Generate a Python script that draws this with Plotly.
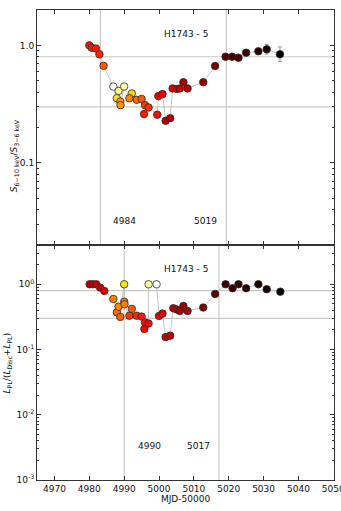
import plotly.graph_objects as go
from plotly.subplots import make_subplots

# ---------------- data ----------------
top_mjd = [4980.0, 4980.7, 4981.9, 4982.9, 4984.1, 4986.9, 4988.4, 4990.0, 4987.9, 4988.9,
           4988.95, 4992.2, 4991.5, 4993.6, 4995.0, 4996.0, 4997.0, 4995.7, 4999.5, 4999.8,
           5001.0, 5001.9, 5003.2, 5003.9, 5005.1, 5006.0, 5007.0, 5008.2, 5012.7, 5016.1,
           5019.1, 5021.0, 5022.8, 5025.0, 5028.5, 5030.9, 5034.7]
top_ratio = [1.00, 0.955, 0.94, 0.84, 0.67, 0.446, 0.41, 0.446, 0.355, 0.333,
             0.31, 0.39, 0.355, 0.344, 0.35, 0.31, 0.296, 0.26, 0.257, 0.37,
             0.385, 0.228, 0.24, 0.43, 0.426, 0.43, 0.486, 0.43, 0.486, 0.667,
             0.80, 0.80, 0.785, 0.866, 0.89, 0.925, 0.84]
top_err_up = [0]*29 + [0.03, 0, 0, 0, 0, 0, 0.09, 0.13]
top_err_dn = [0]*29 + [0.03, 0, 0, 0, 0, 0, 0.08, 0.11]
top_colors = ['#ff1400', '#ff1800', '#ff1c00', '#ff2400', '#ff5a00', '#ffffff', '#ffff99', '#ffffa0', '#ffe020', '#ff9000',
              '#ff9400', '#ffd400', '#ff8800', '#ff6a00', '#ff5800', '#ff3800', '#ff2a00', '#ff1a00', '#ff0a00', '#f40000',
              '#ee0000', '#b40000', '#b00000', '#dc0000', '#cc0000', '#c40000', '#b00000', '#b00000', '#960000', '#7a0000',
              '#520000', '#4c0000', '#460000', '#380000', '#280000', '#180000', '#000000']

bot_mjd = [4980.1, 4981.0, 4982.0, 4983.1, 4984.3, 4986.9, 4987.9, 4988.4, 4988.9, 4990.0,
           4990.02, 4990.1, 4991.5, 4992.2, 4993.6, 4995.0, 4995.8, 4996.0, 4997.0, 4997.02,
           4999.3, 5000.0, 5001.0, 5001.9, 5003.2, 5004.1, 5005.1, 5006.0, 5007.0, 5008.2,
           5012.7, 5016.1, 5019.1, 5021.1, 5022.8, 5025.0, 5028.5, 5030.9, 5034.8]
bot_frac = [1.00, 1.00, 1.00, 0.89, 0.79, 0.596, 0.372, 0.454, 0.316, 1.00,
            0.54, 0.494, 0.33, 0.42, 0.33, 0.32, 0.207, 0.26, 0.25, 1.00,
            1.00, 0.327, 0.355, 0.155, 0.163, 0.43, 0.41, 0.39, 0.465, 0.39,
            0.44, 0.71, 1.00, 0.87, 1.00, 0.87, 1.00, 0.84, 0.77]
bot_colors = ['#c40000', '#c40000', '#c80000', '#cc0000', '#d80000', '#ff8000', '#ff6a00', '#ff8800', '#ff6000', '#ffdd00',
              '#ff7800', '#ff8000', '#ff3400', '#ff5a00', '#ff2200', '#ff1600', '#ff0000', '#ff1000', '#ff0000', '#ffff99',
              '#ffffff', '#ee0000', '#e00000', '#c80000', '#c00000', '#c00000', '#b80000', '#b00000', '#a00000', '#a80000',
              '#800000', '#600000', '#400000', '#3a0000', '#300000', '#280000', '#180000', '#100000', '#000000']

top_vlines = [4983.2, 5019.3]
bot_vlines = [4990.0, 5017.2]
hlines = [0.8, 0.3]
top_vlabels = ['4984', '5019']
bot_vlabels = ['4990', '5017']
source_name = 'H1743 - 5'
x_ticks = [4970, 4980, 4990, 5000, 5010, 5020, 5030, 5040, 5050]

# ---------------- figure ----------------
FONT = 'DejaVu Sans'
fig = make_subplots(rows=2, cols=1, shared_xaxes=False, vertical_spacing=0.0)

order_t = sorted(range(len(top_mjd)), key=lambda i: top_mjd[i])
order_b = sorted(range(len(bot_mjd)), key=lambda i: bot_mjd[i])

fig.add_trace(go.Scatter(x=[top_mjd[i] for i in order_t], y=[top_ratio[i] for i in order_t],
                         mode='lines', line=dict(color='#b8b8b8', width=0.8),
                         hoverinfo='skip', showlegend=False), row=1, col=1)
fig.add_trace(go.Scatter(x=top_mjd, y=top_ratio, mode='markers',
                         error_y=dict(type='data', symmetric=False, array=top_err_up,
                                      arrayminus=top_err_dn, color='#999999', thickness=1, width=2),
                         marker=dict(size=7.5, color=top_colors, line=dict(color='#2a2a2a', width=0.8)),
                         showlegend=False), row=1, col=1)

fig.add_trace(go.Scatter(x=[bot_mjd[i] for i in order_b], y=[bot_frac[i] for i in order_b],
                         mode='lines', line=dict(color='#b8b8b8', width=0.8),
                         hoverinfo='skip', showlegend=False), row=2, col=1)
fig.add_trace(go.Scatter(x=bot_mjd, y=bot_frac, mode='markers',
                         marker=dict(size=7.5, color=bot_colors, line=dict(color='#2a2a2a', width=0.8)),
                         showlegend=False), row=2, col=1)

for r, vls in ((1, top_vlines), (2, bot_vlines)):
    for v in vls:
        fig.add_vline(x=v, line=dict(color='#c8c8c8', width=1.2), layer='below', row=r, col=1)
    for h in hlines:
        fig.add_hline(y=h, line=dict(color='#c8c8c8', width=1.2), layer='below', row=r, col=1)

axis_common = dict(showline=True, linecolor='#333333', linewidth=1, mirror='allticks',
                   ticks='inside', ticklen=4, tickcolor='#333333', showgrid=False, zeroline=False,
                   automargin=False, ticklabeloverflow='allow',
                   tickfont=dict(family=FONT, size=9, color='#111111'))

fig.update_xaxes(range=[4965, 5050.2], tickvals=x_ticks, **axis_common)
fig.update_xaxes(showticklabels=False, row=1, col=1)
fig.update_xaxes(ticktext=[str(t) for t in x_ticks], title=dict(text='MJD-50000', font=dict(family=FONT, size=9), standoff=0), row=2, col=1)

minor_top = [k * 10**e for e in (-2, -1) for k in range(2, 10)] + [2.0]
fig.update_yaxes(type='log', range=[-1.699, 0.301], tickvals=[0.1, 1.0], ticktext=['0.1', '1.0'],
                 minor=dict(ticks='inside', ticklen=2, tickcolor='#333333', tickvals=minor_top),
                 row=1, col=1, **axis_common)
minor_bot = [k * 10**e for e in (-3, -2, -1, 0) for k in range(2, 10)]
fig.update_yaxes(type='log', range=[-3, 0.602], tickvals=[0.001, 0.01, 0.1, 1.0],
                 ticktext=['10<sup>-3</sup>', '10<sup>-2</sup>', '10<sup>-1</sup>', '10<sup>0</sup>'],
                 minor=dict(ticks='inside', ticklen=2, tickcolor='#333333', tickvals=minor_bot),
                 row=2, col=1, **axis_common)

fig.update_layout(xaxis=dict(domain=[0, 1]), xaxis2=dict(domain=[0, 1]),
                  yaxis=dict(domain=[0.5, 1.0]), yaxis2=dict(domain=[0.0, 0.5]))

ann_font = dict(family=FONT, size=9, color='#111111')
anns = [
    dict(x=0.5, y=0.949, text=source_name),
    dict(x=0.5, y=0.449, text=source_name),
    dict(x=0.295, y=0.551, text=top_vlabels[0]),
    dict(x=0.567, y=0.551, text=top_vlabels[1]),
    dict(x=0.379, y=0.073, text=bot_vlabels[0]),
    dict(x=0.545, y=0.073, text=bot_vlabels[1]),
]
for a in anns:
    fig.add_annotation(xref='paper', yref='paper', showarrow=False, font=ann_font,
                       xanchor='center', yanchor='middle', **a)

fig.add_annotation(xref='paper', yref='paper', x=-0.076, y=0.69, textangle=-90, showarrow=False,
                   text='<i>S</i><sub>6\u221210 keV</sub>/<i>S</i><sub>3\u22126 keV</sub>',
                   font=dict(family=FONT, size=9, color='#111111'), xanchor='center', yanchor='middle')
fig.add_annotation(xref='paper', yref='paper', x=-0.098, y=0.25, textangle=-90, showarrow=False,
                   text='<i>L</i><sub>PL</sub>/(<i>L</i><sub>Disc</sub>+<i>L</i><sub>PL</sub>)',
                   font=dict(family=FONT, size=9, color='#111111'), xanchor='center', yanchor='middle')

fig.update_layout(width=341, height=511, margin=dict(l=37, r=7, t=10, b=31, autoexpand=False),
                  paper_bgcolor='white', plot_bgcolor='white',
                  font=dict(family=FONT, size=9, color='#111111'))

fig.write_html('out.html', config={'displayModeBar': False},
               post_script="document.body.style.margin='0';document.body.style.overflow='hidden';")
